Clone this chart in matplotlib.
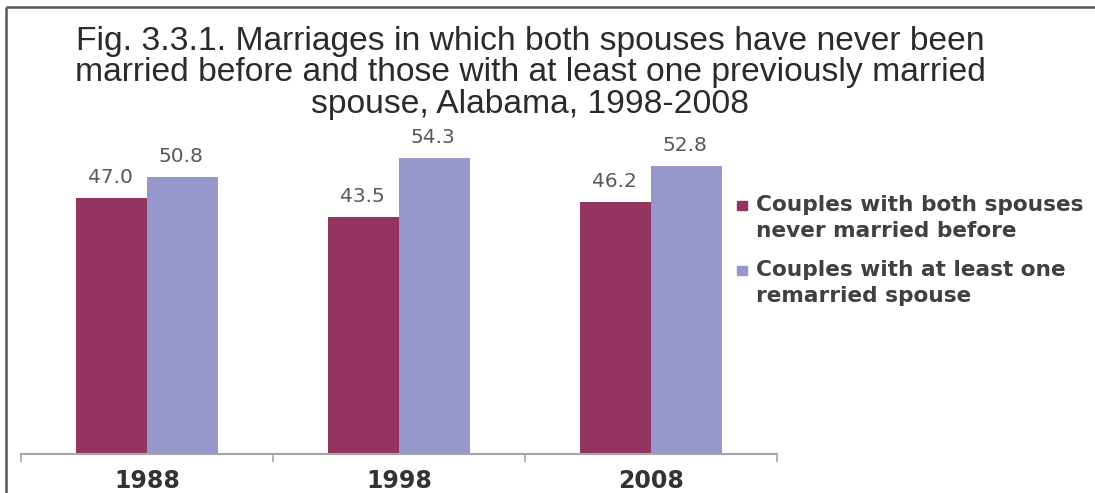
import numpy as np
import matplotlib.pyplot as plt
from matplotlib.lines import Line2D
from matplotlib.patches import Rectangle

years = ["1988", "1998", "2008"]
never_married = [47.0, 43.5, 46.2]
remarried = [50.8, 54.3, 52.8]
series_names = ["Couples with both spouses\nnever married before",
                "Couples with at least one\nremarried spouse"]
colors = ["#943461", "#9697cb"]

title = ("Fig. 3.3.1. Marriages in which both spouses have never been\n"
         "married before and those with at least one previously married\n"
         "spouse, Alabama, 1998-2008")

fig = plt.figure(figsize=(10.95, 4.93), dpi=100)
fig.patch.set_facecolor("white")
ax = fig.add_axes([0.0192, 0.0791, 0.6904, 0.663])

x = np.arange(len(years))
w = 0.28
b1 = ax.bar(x - w / 2, never_married, w, color=colors[0])
b2 = ax.bar(x + w / 2, remarried, w, color=colors[1])

for bars, vals in ((b1, never_married), (b2, remarried)):
    for rect, v in zip(bars, vals):
        ax.annotate(f"{v:.1f}", (rect.get_x() + rect.get_width() / 2, v),
                    xytext=(-1, 8), textcoords="offset points",
                    ha="center", va="bottom", fontsize=14.5, color="#595959",
                    family="DejaVu Sans")

ax.set_xlim(-0.5, len(years) - 0.5)
ax.set_ylim(0, 60)
for s in ("top", "right", "left"):
    ax.spines[s].set_visible(False)
ax.spines["bottom"].set_color("#a6a6a6")
ax.spines["bottom"].set_linewidth(1.5)
ax.set_yticks([])
ax.set_xticks(x)
ax.set_xticklabels(years, fontsize=17, fontweight="bold", color="#333333",
                   family="DejaVu Sans")
ax.tick_params(axis="x", which="major", length=0, pad=11)
ax.set_xticks(np.arange(-0.5, len(years)), minor=True)
ax.tick_params(axis="x", which="minor", length=6, width=1.2, color="#a6a6a6",
               direction="out")

fig.text(0.484, 0.948, title, ha="center", va="top", fontsize=24.2,
         family="Liberation Sans", color="#2b2b2b", linespacing=1.02)

# legend, squares beside the first line of each label
leg_y = [0.584, 0.452]
for name, c, yy in zip(series_names, colors, leg_y):
    fig.patches.append(Rectangle((0.673, yy - 0.01), 0.0092, 0.019,
                                 transform=fig.transFigure, color=c))
    fig.text(0.690, yy + 0.021, name, ha="left", va="top", fontsize=15.6,
             fontweight="bold", color="#404040", family="DejaVu Sans",
             linespacing=1.4)

# outer frame: left and top edges
fig.lines.append(Line2D([0.0055, 0.0055], [0.0, 0.986], transform=fig.transFigure,
                        color="#555555", lw=1.8, solid_capstyle="butt"))
fig.lines.append(Line2D([0.0055, 1.0], [0.986, 0.986], transform=fig.transFigure,
                        color="#555555", lw=1.8, solid_capstyle="butt"))

fig.savefig("out.png", dpi=100)
